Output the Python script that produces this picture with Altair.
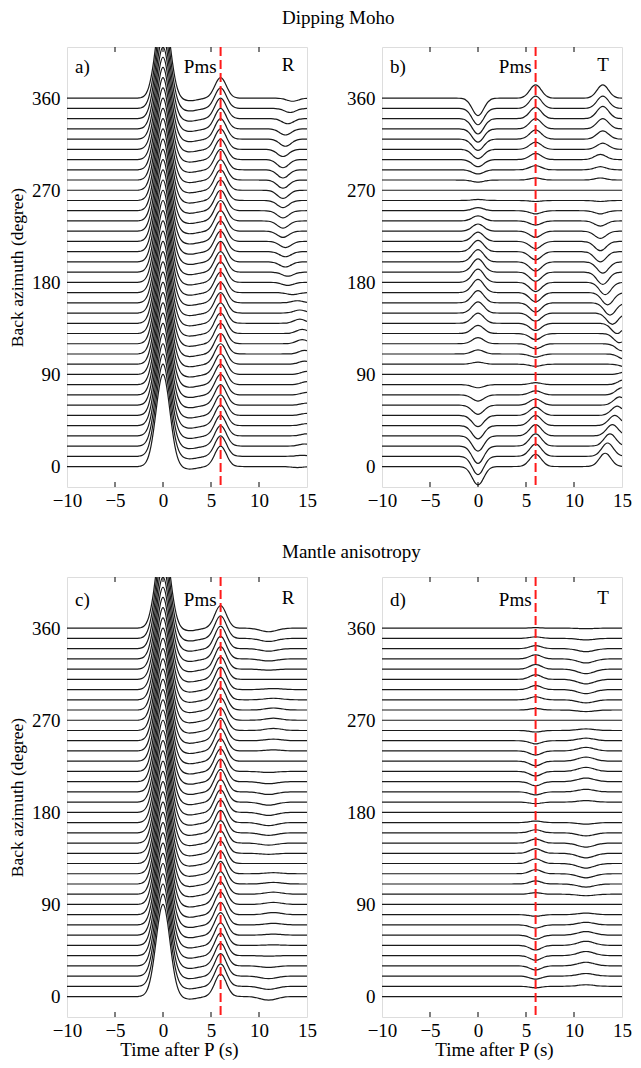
import altair as alt
import numpy as np
import pandas as pd

alt.data_transformers.disable_max_rows()

# ---------------- data ----------------
BAZ = [0, 10, 20, 30, 40, 50, 60, 70, 80, 90, 100, 110, 120, 130, 140, 150, 160, 170, 180,
       190, 200, 210, 220, 230, 240, 250, 260, 270, 280, 290, 300, 310, 320, 330, 340, 350, 360]

TIME_MIN, TIME_MAX, DT = -10.0, 15.0, 0.25

# sampled pulse shapes (normalised), offsets in seconds
PULSE_OFFSETS = [-2.5, -2.25, -2.0, -1.75, -1.5, -1.25, -1.0, -0.75, -0.5, -0.25, 0.0,
                 0.25, 0.5, 0.75, 1.0, 1.25, 1.5, 1.75, 2.0, 2.25, 2.5]
PULSE_P = [0.0024, 0.0076, 0.021, 0.052, 0.114, 0.222, 0.381, 0.581, 0.786, 0.941, 1.0,
           0.941, 0.786, 0.581, 0.381, 0.222, 0.114, 0.052, 0.021, 0.0076, 0.0024]
PULSE_NARROW = [0.0002, 0.0009, 0.004, 0.014, 0.044, 0.114, 0.249, 0.458, 0.707, 0.917, 1.0,
                0.917, 0.707, 0.458, 0.249, 0.114, 0.044, 0.014, 0.004, 0.0009, 0.0002]
PULSE_WIDE = [0.013, 0.030, 0.063, 0.120, 0.211, 0.339, 0.5, 0.677, 0.841, 0.958, 1.0,
              0.958, 0.841, 0.677, 0.5, 0.339, 0.211, 0.120, 0.063, 0.030, 0.013]

# --- radial, dipping Moho (a)
A_P_AMP = [90] * 37
A_POSTP_AMP = [-2.5] * 37
A_PMS_AMP = [20] * 37
A_LATE_AMP = [-1, 1, 2, 2, 2, 2, 2, 2.5, 3, 3, 3, 3.5, 4, 4, 4, 3, 2, -2, -3,
              -4, -5, -5, -6, -6, -7, -7, -7, -8, -8, -8, -8, -7, -7, -6, -5, -4, -3]
A_LATE_T = [14.0, 14.5, 14.75, 15.0, 15.0, 15.0, 15.0, 15.0, 15.0, 15.0, 14.75, 14.75, 14.5,
            14.5, 14.25, 14.25, 14.0, 13.5, 13.0, 13.0, 12.75, 12.75, 12.75, 12.5, 12.5, 12.5,
            12.5, 12.5, 12.5, 12.5, 12.5, 12.5, 12.75, 12.75, 13.0, 13.25, 13.5]

# --- transverse, dipping Moho (b)
B_P_AMP = [-18, -18, -17, -15, -13, -11, -9, -6, -3, 0, 2, 4, 6, 8, 10, 11, 12, 13, 13,
           13, 12, 11, 9, 7, 5, 3, 1, 0, -2, -4, -7, -9, -11, -13, -15, -16, -17]
B_PMS_AMP = [12, 12, 12, 11, 10, 8, 6, 4, 2, 0, -2, -3, -5, -6, -7, -8, -9, -9, -9,
             -9, -9, -8, -7, -6, -4, -3, -1, 0, 2, 4, 6, 7, 9, 10, 11, 12, 13]
B_LATE_AMP = [13, 13, 12, 11, 10, 9, 8, 7, 5, 3, -3, -5, -7, -9, -10, -11, -12, -12, -12,
              -12, -11, -10, -9, -7, -5, -3, -1, 0, 2, 3, 5, 6, 8, 10, 12, 12, 13]
B_LATE_T = [13.25, 13.5, 13.75, 14.0, 14.25, 14.5, 14.75, 15.0, 15.25, 15.5, 15.5, 15.25,
            15.0, 14.75, 14.5, 14.0, 13.75, 13.5, 13.25, 13.0, 13.0, 12.75, 12.75, 12.75,
            12.75, 12.75, 12.75, 12.75, 12.75, 12.75, 12.75, 13.0, 13.0, 13.0, 13.0, 13.0, 13.0]

# --- radial, mantle anisotropy (c)
C_P_AMP = [90] * 37
C_POSTP_AMP = [-2.5] * 37
C_PMS_AMP = [22] * 37
C_LATE_AMP = [-3.5, -3, -2.5, -1.5, -0.5, 0.5, 1, 1.5, 2, 2, 2, 1.5, 1, 0, -1, -2, -2.5, -3, -3,
              -3, -2.5, -2, -1, 0, 1, 1.5, 2, 2, 2, 1.5, 1, 0, -1, -2, -2.5, -3, -3.5]
C_LATE_T = [11.0, 11.0, 11.0, 11.0, 11.0, 11.5, 11.5, 11.5, 11.5, 11.5, 11.5, 11.5, 11.5, 11.5,
            11.0, 11.0, 11.0, 11.0, 11.0, 11.0, 11.0, 11.0, 11.0, 11.5, 11.5, 11.5, 11.5, 11.5,
            11.5, 11.5, 11.5, 11.5, 11.0, 11.0, 11.0, 11.0, 11.0]

# --- transverse, mantle anisotropy (d)
D_PMS_AMP = [0, -1.5, -3, -4, -4.5, -4.5, -4, -3, -1.5, 0, 1.5, 3, 4, 4.5, 4.5, 4, 3, 1.5, 0,
             -1.5, -3, -4, -4.5, -4.5, -4, -3, -1.5, 0, 1.5, 3, 4, 4.5, 4.5, 4, 3, 1.5, 0.5]
D_LATE_AMP = [0, 1.5, 2.5, 3.5, 4, 4, 3.5, 2.5, 1.5, 0, -1.5, -3, -4, -4.5, -4.5, -4, -3, -1.5, 0,
              1.5, 2.5, 3.5, 4, 4, 3.5, 2.5, 1.5, 0, -1.5, -3, -4, -4.5, -4.5, -4, -3, -1.5, -0.5]

PMS_TIME = 6.0
X_TICK_VALUES = [-10, -5, 0, 5, 10, 15]
X_INNER_TICKS = [-5, 0, 5, 10]
Y_TICK_VALUES = [0, 90, 180, 270, 360]
ROW_TITLES = {"a": "Dipping Moho", "c": "Mantle anisotropy"}

FONT = "Liberation Serif"
FS = 19


def build_traces(phases):
    times = np.round(np.arange(TIME_MIN, TIME_MAX + DT / 2, DT), 4)
    n = len(times)
    frames = []
    for i, b in enumerate(BAZ):
        v = np.zeros(n)
        for amps, tps, kern in phases:
            a = amps[i]
            tp = tps[i] if isinstance(tps, list) else tps
            for off, k in zip(PULSE_OFFSETS, kern):
                j = int(round((tp + off - TIME_MIN) / DT))
                if 0 <= j < n:
                    v[j] += a * k
        frames.append(pd.DataFrame({"t": times, "baz": b, "y": b + v}))
    return pd.concat(frames, ignore_index=True)


PANELS = {
    "a": dict(comp="R", phases=[(A_P_AMP, 0.0, PULSE_P), (A_POSTP_AMP, 2.75, PULSE_WIDE),
                                (A_PMS_AMP, PMS_TIME, PULSE_NARROW),
                                (A_LATE_AMP, A_LATE_T, PULSE_NARROW)]),
    "b": dict(comp="T", phases=[(B_P_AMP, 0.0, PULSE_NARROW), (B_PMS_AMP, PMS_TIME, PULSE_NARROW),
                                (B_LATE_AMP, B_LATE_T, PULSE_NARROW)]),
    "c": dict(comp="R", phases=[(C_P_AMP, 0.0, PULSE_P), (C_POSTP_AMP, 2.75, PULSE_WIDE),
                                (C_PMS_AMP, PMS_TIME, PULSE_NARROW),
                                (C_LATE_AMP, C_LATE_T, PULSE_WIDE)]),
    "d": dict(comp="T", phases=[(D_PMS_AMP, PMS_TIME, PULSE_NARROW),
                                (D_LATE_AMP, 11.25, PULSE_WIDE)]),
}

W, H = 240, 440


def panel(key, show_ytitle, show_xtitle):
    spec = PANELS[key]
    df = build_traces(spec["phases"])
    ann_y = 20 if key in ("a", "b") else 23
    xscale = alt.Scale(domain=[TIME_MIN, TIME_MAX], nice=False, zero=False)
    yscale = alt.Scale(domain=[-20, 410], nice=False, zero=False)
    xaxis = alt.Axis(values=X_TICK_VALUES, tickSize=0, domain=False, grid=False,
                     labelFlush=False, labelPadding=4, labelFont=FONT, labelFontSize=FS,
                     labelColor="black", titleFont=FONT, titleFontSize=FS,
                     titleFontWeight="normal", titleColor="black",
                     titleBaseline="alphabetic", titleX=112, titleY=38, titleAlign="center",
                     title="Time after P (s)" if show_xtitle else None)
    yaxis = alt.Axis(values=Y_TICK_VALUES, tickSize=0, domain=False, grid=False,
                     labelFlush=False, labelPadding=7, labelFont=FONT, labelFontSize=FS,
                     labelColor="black", titleFont=FONT, titleFontSize=17.5,
                     titleFontWeight="normal", titleColor="black", titlePadding=5,
                     title="Back azimuth (degree)" if show_ytitle else None)
    X = alt.X("t:Q", scale=xscale, axis=xaxis)

    lines = alt.Chart(df).mark_line(clip=True, interpolate="monotone", color="#1a1a1a",
                                    strokeWidth=1.2).encode(
        x=X, y=alt.Y("y:Q", scale=yscale, axis=yaxis), detail="baz:N")

    tick_df = pd.DataFrame({"t": X_INNER_TICKS})
    top_ticks = alt.Chart(tick_df).mark_rule(color="black", strokeWidth=1).encode(
        x=X, y=alt.value(0), y2=alt.value(5))
    bot_ticks = alt.Chart(tick_df).mark_rule(color="black", strokeWidth=1).encode(
        x=X, y=alt.value(H), y2=alt.value(H - 5))

    red = alt.Chart(pd.DataFrame({"t": [PMS_TIME]})).mark_rule(
        color="#ff1a1a", strokeWidth=2, strokeDash=[9, 4]).encode(x=X)

    one = pd.DataFrame({"k": [0]})
    lab = alt.Chart(one).mark_text(font=FONT, fontSize=FS, align="left", baseline="middle",
                                   color="black").encode(
        x=alt.value(8), y=alt.value(ann_y), text=alt.value(key + ")"))
    pms = alt.Chart(pd.DataFrame({"t": [PMS_TIME]})).mark_text(
        font=FONT, fontSize=FS, align="right", baseline="middle", color="black", dx=-4).encode(
        x=X, y=alt.value(ann_y), text=alt.value("Pms"))
    comp = alt.Chart(one).mark_text(font=FONT, fontSize=FS, align="center", baseline="middle",
                                    color="black").encode(
        x=alt.value(221), y=alt.value(ann_y - 2), text=alt.value(spec["comp"]))

    layers = [lines, red, top_ticks, bot_ticks, lab, pms, comp]
    if key in ROW_TITLES:
        ty = -23 if key == "a" else -19
        layers.append(alt.Chart(one).mark_text(
            font=FONT, fontSize=FS, align="left", baseline="alphabetic", color="black").encode(
            x=alt.value(215), y=alt.value(ty), text=alt.value(ROW_TITLES[key])))

    return alt.layer(*layers).properties(width=W, height=H)


chart = alt.concat(
    panel("a", True, False), panel("b", False, False),
    panel("c", True, True), panel("d", False, True),
    columns=2, spacing={"row": 90, "column": 75}, bounds="flush",
).properties(
    padding={"left": 0, "top": 0, "right": 0, "bottom": 0}
).configure_view(stroke="black", strokeWidth=1).configure(background="white")

chart.save("out.html", embed_options={"renderer": "svg", "actions": False})
